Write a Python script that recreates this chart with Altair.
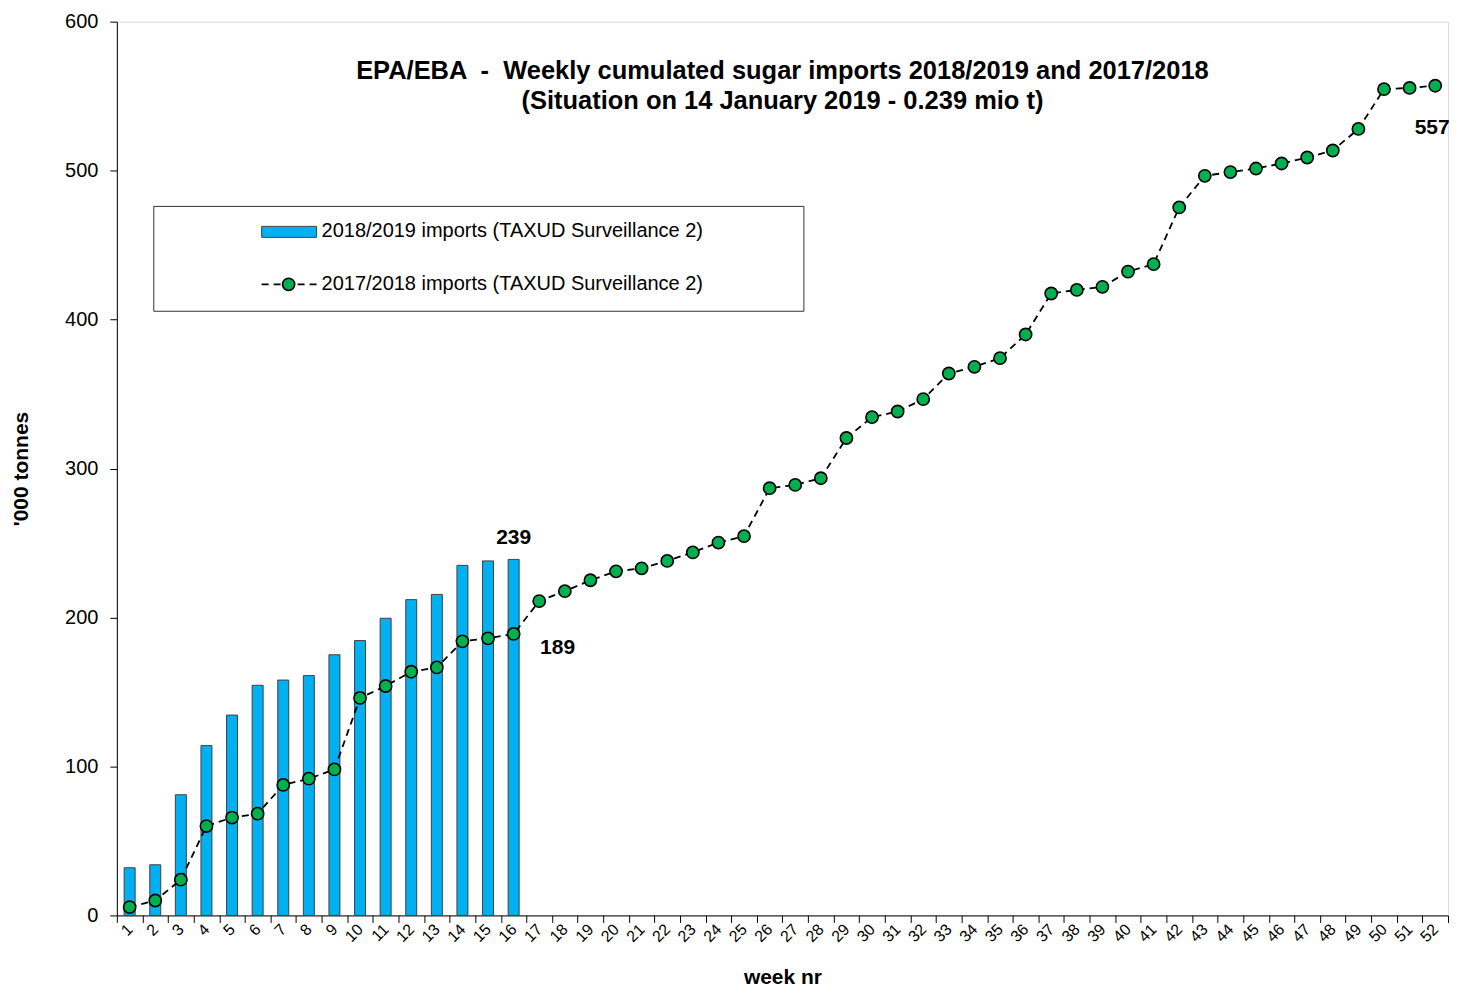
import altair as alt
import pandas as pd

weeks = list(range(1, 53))
weeks_1819 = list(range(1, 17))
imports_1819 = [32, 34, 81, 114, 134.5, 154.5, 158, 161, 175, 184.5, 199.5,
                212, 215.5, 235, 238, 239]
imports_1718 = [5.6, 10, 24, 60, 65.7, 68.3, 87.6, 91.8, 98, 146, 154, 163.6,
                166.5, 184, 186, 189, 211, 217.7, 225, 231, 233, 238, 243.7,
                250.3, 254.6, 286.8, 289, 293.5, 320.5, 334.5, 338.3, 346.6,
                363.8, 368.3, 374.1, 390, 417.5, 419.9, 422, 432.2, 437.2,
                475.3, 496.5, 499, 501.4, 504.8, 508.8, 513.5, 528, 554.7,
                555.5, 557]
y_ticks = [0, 100, 200, 300, 400, 500, 600]
title_lines = ["EPA/EBA \u00a0-\u00a0 Weekly cumulated sugar imports 2018/2019 and 2017/2018",
               "(Situation on 14 January 2019 - 0.239 mio t)"]
legend_labels = ["2018/2019 imports (TAXUD Surveillance 2)",
                 "2017/2018 imports (TAXUD Surveillance 2)"]
ann_week = [16, 16, 52]
ann_value = [239, 189, 557]
ann_text = ["239", "189", "557"]

FONT = "Liberation Sans"
BLUE = "#00B0F0"
GREEN = "#00B050"

df_bar = pd.DataFrame({"week": weeks_1819, "value": imports_1819})
df_line = pd.DataFrame({"week": weeks, "value": imports_1718})
df_ann = pd.DataFrame({"week": ann_week, "value": ann_value, "text": ann_text})
one = pd.DataFrame({"a": [0]})

x_enc = alt.X("week:O", title="week nr",
              scale=alt.Scale(type="band", domain=weeks, paddingInner=0, paddingOuter=0),
              axis=alt.Axis(labelAngle=-45, labelAlign="right", labelBaseline="middle",
                            labelFontSize=16, labelFont=FONT, labelColor="black",
                            labelPadding=4, tickBand="extent", tickSize=7,
                            tickColor="black", domainColor="black",
                            titleFontSize=21, titleFont=FONT, titleFontWeight="bold",
                            titleColor="black", titlePadding=22, grid=False))
y_scale = alt.Scale(domain=[0, 600], nice=False)
y_axis = alt.Axis(values=y_ticks, labelFontSize=20, labelFont=FONT, labelColor="black",
                  labelPadding=12, tickSize=7, tickColor="black", domainColor="black",
                  titleFontSize=21, titleFont=FONT, titleFontWeight="bold",
                  titleColor="black", titlePadding=33, grid=False)

bars = alt.Chart(df_bar).mark_bar(size=11, color=BLUE, stroke="#404040",
                                  strokeWidth=1).encode(
    x=x_enc,
    y=alt.Y("value:Q", title="'000 tonnes", scale=y_scale, axis=y_axis),
)

line = alt.Chart(df_line).mark_line(color="black", strokeDash=[7, 5],
                                    strokeWidth=1.8).encode(
    x=alt.X("week:O"), y=alt.Y("value:Q"))

points = alt.Chart(df_line).mark_point(shape="circle", filled=True, fill=GREEN,
                                       stroke="black", strokeWidth=1.6, size=150,
                                       opacity=1).encode(
    x=alt.X("week:O"), y=alt.Y("value:Q"))

ann_style = dict(font=FONT, fontSize=21, fontWeight="bold", color="black")
ann1 = alt.Chart(df_ann.iloc[[0]]).mark_text(dy=-21, **ann_style).encode(
    x="week:O", y="value:Q", text="text:N")
ann2 = alt.Chart(df_ann.iloc[[1]]).mark_text(dx=44, dy=14, **ann_style).encode(
    x="week:O", y="value:Q", text="text:N")
ann3 = alt.Chart(df_ann.iloc[[2]]).mark_text(dx=-3, dy=42, **ann_style).encode(
    x="week:O", y="value:Q", text="text:N")

# legend box
leg_box = alt.Chart(one).mark_rect(fill="white", stroke="#333333", strokeWidth=1).encode(
    x=alt.value(37), x2=alt.value(688), y=alt.value(185), y2=alt.value(290))
leg_bar = alt.Chart(one).mark_rect(fill=BLUE, stroke="#404040", strokeWidth=1).encode(
    x=alt.value(145), x2=alt.value(200), y=alt.value(205), y2=alt.value(216))
leg_line = alt.Chart(one).mark_rule(color="black", strokeDash=[7, 5], strokeWidth=1.8).encode(
    x=alt.value(145), x2=alt.value(200), y=alt.value(263))
leg_pt = alt.Chart(one).mark_point(shape="circle", filled=True, fill=GREEN, stroke="black",
                                   strokeWidth=1.6, size=150, opacity=1).encode(
    x=alt.value(172), y=alt.value(263))
leg_t1 = alt.Chart(one).mark_text(align="left", baseline="middle", font=FONT, fontSize=20,
                                  color="black", text=legend_labels[0]).encode(
    x=alt.value(205), y=alt.value(210))
leg_t2 = alt.Chart(one).mark_text(align="left", baseline="middle", font=FONT, fontSize=20,
                                  color="black", text=legend_labels[1]).encode(
    x=alt.value(205), y=alt.value(263))

chart = alt.layer(
    bars, line, points, ann1, ann2, ann3,
    leg_box, leg_bar, leg_line, leg_pt, leg_t1, leg_t2,
).properties(
    width=1333, height=895,
    title=alt.TitleParams(text=title_lines, fontSize=25.5, font=FONT, fontWeight="bold",
                          color="black", anchor="middle", lineHeight=30, dy=107),
    padding={"left": 2, "right": 0, "top": 3, "bottom": 0},
).configure_view(stroke="transparent", strokeWidth=0).configure(background="white")

chart.save("out.html", embed_options={"renderer": "svg", "actions": False})
